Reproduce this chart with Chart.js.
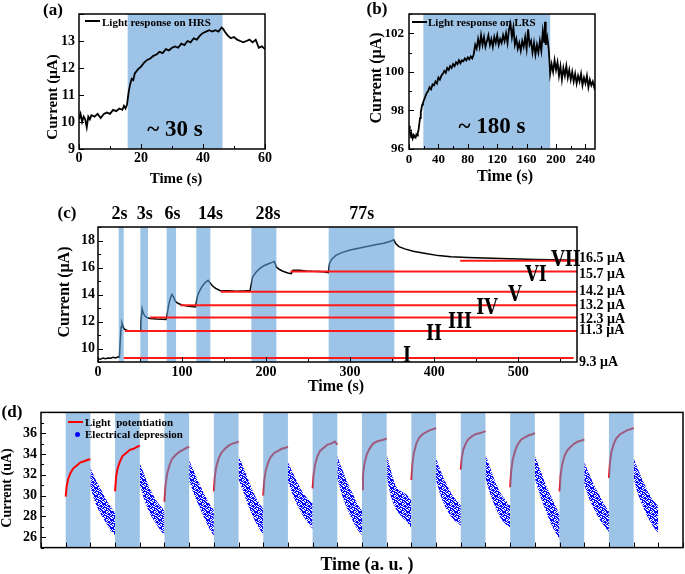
<!DOCTYPE html>
<html>
<head>
<meta charset="utf-8">
<script src="https://cdn.jsdelivr.net/npm/chart.js@4.4.1/dist/chart.umd.min.js"></script>
<style>
    body { margin: 0; width: 685px; height: 574px; position: relative; overflow: hidden; background: #fff;
           font-family: "Liberation Serif", "Times New Roman", serif; font-weight: bold; color: #000; }
    canvas { position: absolute; }
    .t { position: absolute; transform: translate(-50%, -50%); white-space: pre; line-height: 1; }
    .rot { transform: translate(-50%, -50%) rotate(-90deg); }
    .lt { position: absolute; transform: translateY(-50%); white-space: pre; line-height: 1; }
    .rn { font-family: "DejaVu Serif", serif; }
</style>
</head>
<body>
<canvas id="chartA"></canvas>
<canvas id="chartB"></canvas>
<canvas id="chartC"></canvas>
<canvas id="chartD"></canvas>
<script>
// (a) light response on HRS: [time s, current µA]
const hrsTrace = [[0,10.1],[0.5,10.3],[1,10.0],[1.5,10.2],[2,10.1],[2.5,9.8],[3,10.2],[3.5,10.1],[4,10.25],[5,10.2],[6,10.3],[7,10.15],[8,10.3],[9,10.35],[10,10.3],[11,10.45],[12,10.4],[13,10.5],[14,10.45],[14.5,10.6],[15,10.5],[15.5,10.65],[16,11.1],[16.5,11.4],[17,11.6],[17.5,11.55],[18,11.8],[19,11.95],[20,12.05],[21,12.2],[22,12.3],[23,12.35],[24,12.45],[25,12.5],[26,12.6],[27,12.55],[28,12.7],[29,12.65],[30,12.75],[31,12.8],[32,12.75],[33,12.9],[34,12.85],[35,13.0],[36,12.95],[37,13.1],[38,13.05],[39,13.2],[40,13.3],[41,13.35],[42,13.4],[43,13.35],[44,13.4],[45,13.35],[46,13.5],[46.5,13.45],[47,13.35],[48,13.2],[49,13.1],[50,13.15],[51,13.05],[52,13.0],[53,12.95],[54,13.0],[55,13.05],[56,12.95],[57,13.05],[57.5,12.9],[58,12.75],[59,12.8],[60,12.7]];
const hrsLight = [[15.7, 46.3]];
const ticksAX = [0, 20, 40, 60];
const ticksAY = [9, 10, 11, 12, 13];

// (b) light response on LRS
const lrsTrace = [[0,97.2],[1,96.9],[2,96.8],[3,96.6],[4,96.7],[5,96.55],[6,96.7],[7,96.6],[8,96.65],[9,96.6],[10,96.75],[11,96.7],[12,96.85],[13,97.0],[14,97.3],[15,97.6],[16,97.9],[17,98.1],[18,98.3],[19,98.4],[20,98.5],[22,98.7],[24,98.9],[26,99.0],[28,99.2],[30,99.1],[32,99.35],[34,99.3],[36,99.5],[38,99.4],[40,99.7],[42,99.6],[44,99.8],[46,99.9],[48,100.05],[50,99.95],[52,100.2],[54,100.1],[56,100.3],[58,100.2],[60,100.4],[62,100.3],[64,100.5],[66,100.4],[68,100.6],[70,100.45],[72,100.6],[74,100.55],[76,100.7],[78,100.6],[80,100.75],[82,100.65],[84,100.8],[86,100.7],[88,100.9],[90,101.4],[92,101.2],[94,101.7],[96,101.3],[98,101.9],[100,101.4],[102,101.8],[104,101.3],[106,101.6],[108,101.9],[110,101.4],[112,101.7],[114,101.3],[116,101.8],[118,101.5],[120,101.9],[122,101.4],[124,101.7],[126,101.5],[128,101.9],[130,101.6],[132,102.0],[134,101.5],[136,102.2],[138,102.5],[140,101.8],[142,102.3],[144,101.4],[146,101.7],[148,101.2],[150,101.5],[152,101.1],[154,101.6],[156,101.3],[158,101.8],[160,101.2],[162,102.2],[164,101.4],[166,101.6],[168,101.0],[170,101.5],[172,100.9],[174,101.4],[176,101.0],[178,101.6],[180,101.1],[182,102.1],[184,101.5],[185,102.6],[186,101.4],[188,101.8],[190,101.2],[191,100.6],[192,99.9],[194,100.4],[196,100.0],[198,100.6],[200,100.1],[202,100.5],[204,99.8],[206,100.3],[208,99.6],[210,100.2],[212,99.8],[214,100.3],[216,99.7],[218,100.1],[220,99.6],[222,100.0],[224,99.5],[226,99.9],[228,99.4],[230,99.8],[232,99.5],[234,99.9],[236,99.3],[238,99.7],[240,99.4],[242,99.8],[244,99.2],[246,99.6],[248,99.3],[250,99.5],[252,99.2],[253,99.4]];
const lrsLight = [[19.5, 192]];
const ticksBX = [0, 40, 80, 120, 160, 200, 240];
const ticksBY = [96, 98, 100, 102];

// (c) pulses of growing length and the retained levels
const pulseTrace = [[0,9.25],[3,9.2],[6,9.3],[9,9.25],[12,9.3],[15,9.28],[18,9.35],[21,9.3],[24,9.38],[25.5,9.35],[26.5,10.6],[27.5,11.6],[28.5,11.9],[29.5,11.7],[31,11.45],[34,11.35],[38,11.3],[44,11.28],[50,11.3],[51,11.9],[52.5,12.95],[54,12.6],[56,12.4],[58,12.3],[62,12.22],[70,12.18],[81,12.15],[82.5,12.6],[84,13.2],[86,13.7],[88,14.0],[90,13.8],[92,13.5],[95,13.35],[100,13.22],[108,13.12],[116,13.08],[117.5,13.6],[119,14.0],[122,14.4],[125,14.7],[128,14.9],[131,15.05],[133,14.9],[136,14.65],[140,14.45],[145,14.3],[155,14.27],[165,14.25],[175,14.27],[181,14.3],[182.5,14.8],[184,15.3],[188,15.65],[193,15.95],[198,16.15],[203,16.28],[208,16.4],[210,16.45],[212,16.05],[216,15.85],[220,15.72],[226,15.6],[230,15.55],[232,15.8],[240,15.8],[248,15.75],[255,15.72],[262,15.7],[268,15.68],[274,15.62],[275.5,16.3],[278,16.6],[283,16.9],[290,17.1],[300,17.3],[310,17.42],[320,17.55],[330,17.68],[340,17.8],[348,17.95],[352,18.05],[354,17.8],[358,17.55],[365,17.38],[375,17.2],[390,17.03],[405,16.88],[420,16.8],[440,16.74],[460,16.7],[480,16.66],[500,16.63],[520,16.6],[540,16.57],[570,16.53]];
const pulseLight = [[24.6,30.6],[50.4,59.5],[81.7,92.9],[117,133.7],[182.5,212.3],[274.5,352.7]];
const pulseNames = ['2s', '3s', '6s', '14s', '28s', '77s'];
const levels = [9.3, 11.3, 12.3, 13.2, 14.2, 15.7, 16.5];
const levelStart = [30.6, 32, 62, 98, 146, 229, 431];
const levelEnd = [566, 570, 570, 570, 570, 570, 570];
const levelNames = ['I', 'II', 'III', 'IV', 'V', 'VI', 'VII'];
const ticksCX = [0, 100, 200, 300, 400, 500];
const ticksCY = [10, 12, 14, 16, 18];

// (d) 12 cycles: light potentiation then electrical depression
const cycleLight = [[1,2],[3,4],[5,6],[7,8],[9,10],[11,12],[13,14],[15,16],[17,18],[19,20],[21,22],[23,24]];
const riseAt = [0, 0.04, 0.1, 0.2, 0.3, 0.45, 0.6, 0.75, 0.9, 1.0];
const potentiation = [
    [29.9, 30.9, 31.6, 32.2, 32.6, 32.9, 33.2, 33.3, 33.45, 33.5],
    [30.4, 31.8, 32.6, 33.3, 33.8, 34.1, 34.4, 34.5, 34.7, 34.8],
    [29.4, 30.9, 32.0, 32.9, 33.5, 33.9, 34.2, 34.4, 34.6, 34.7],
    [30.4, 31.8, 32.8, 33.6, 34.1, 34.5, 34.8, 35.0, 35.1, 35.2],
    [30.0, 31.4, 32.4, 33.2, 33.7, 34.1, 34.3, 34.5, 34.6, 34.7],
    [30.7, 32.0, 33.0, 33.8, 34.3, 34.6, 34.9, 35.0, 35.2, 34.9],
    [30.6, 32.0, 33.1, 34.0, 34.5, 35.0, 35.2, 35.3, 35.4, 35.5],
    [31.5, 33.0, 34.1, 35.0, 35.5, 35.9, 36.1, 36.3, 36.4, 36.5],
    [32.5, 33.6, 34.4, 35.0, 35.4, 35.7, 35.9, 36.0, 36.1, 36.2],
    [30.8, 32.3, 33.4, 34.3, 34.9, 35.4, 35.6, 35.8, 35.9, 36.0],
    [30.4, 31.9, 32.9, 33.8, 34.3, 34.7, 35.0, 35.2, 35.3, 35.4],
    [31.7, 33.1, 34.2, 35.0, 35.5, 35.9, 36.1, 36.3, 36.4, 36.5]
];
const fallAt = [0, 0.2, 0.4, 0.6, 0.8, 1.0];
const depressionHigh = [
    [32.7, 31.6, 30.7, 29.8, 29.0, 28.3],
    [33.1, 31.9, 30.7, 29.8, 29.1, 28.6],
    [33.4, 32.3, 31.2, 30.2, 29.3, 28.6],
    [33.8, 32.7, 31.5, 30.3, 29.4, 28.7],
    [33.2, 32.2, 31.2, 30.3, 29.7, 29.3],
    [33.8, 32.5, 31.3, 30.3, 29.3, 28.5],
    [34.0, 32.1, 30.8, 30.4, 30.1, 29.5],
    [33.6, 32.3, 31.2, 30.3, 29.6, 29.1],
    [34.0, 32.6, 31.3, 30.3, 29.6, 29.0],
    [33.8, 32.6, 31.3, 30.2, 29.2, 28.2],
    [33.2, 32.1, 31.0, 30.1, 29.2, 28.5],
    [33.6, 32.4, 31.3, 30.3, 29.5, 29.0]
];
const depressionLow = [
    [30.8, 29.3, 28.3, 27.5, 26.7, 26.2],
    [31.1, 29.5, 28.3, 27.5, 26.8, 26.2],
    [31.4, 30.1, 29.0, 27.9, 26.9, 26.1],
    [31.6, 30.3, 29.0, 27.9, 27.0, 26.2],
    [31.4, 30.0, 29.0, 28.1, 27.4, 26.8],
    [31.6, 30.0, 28.7, 27.7, 26.8, 26.2],
    [31.8, 29.7, 28.6, 28.0, 27.5, 26.9],
    [31.5, 29.9, 28.8, 28.0, 27.5, 27.1],
    [31.7, 30.1, 28.9, 27.9, 27.3, 26.9],
    [31.7, 30.1, 28.8, 27.6, 26.6, 25.8],
    [31.1, 29.7, 28.7, 27.8, 27.1, 26.5],
    [31.6, 30.0, 28.8, 27.8, 27.0, 26.4]
];
const ticksDY = [26, 28, 30, 32, 34, 36];

Chart.defaults.font.family = '"Liberation Serif", "Times New Roman", serif';
Chart.defaults.font.weight = 'bold';
Chart.defaults.color = '#000';

// light-on windows, painted either under every line or right after one dataset
function paintShade(chart, o) {
    const { ctx, chartArea: a, scales: { x } } = chart;
    ctx.save();
    ctx.fillStyle = o.color;
    o.spans.forEach(([s, e]) => {
        const l = x.getPixelForValue(s), r = x.getPixelForValue(e);
        ctx.fillRect(l, a.top, r - l, a.bottom - a.top);
    });
    ctx.restore();
}
const shadePlugin = {
    id: 'shade',
    beforeDatasetsDraw(chart, args, o) { if (o.after === -1) paintShade(chart, o); },
    afterDatasetDraw(chart, args, o) { if (args.index === o.after) paintShade(chart, o); }
};

function tickMarks(scale, minor, major) {
    const out = [];
    const n0 = Math.ceil(scale.min / minor - 1e-6), n1 = Math.floor(scale.max / minor + 1e-6);
    for (let i = n0; i <= n1; i++) {
        const v = i * minor, r = v / major;
        out.push([v, Math.abs(r - Math.round(r)) < 1e-6]);
    }
    return out;
}
// closed box with inward ticks on bottom and left
const framePlugin = {
    id: 'frame',
    afterDraw(chart, args, o) {
        const { ctx, chartArea: a, scales: { x, y } } = chart;
        ctx.save();
        ctx.strokeStyle = '#000';
        ctx.lineWidth = 1.5;
        ctx.strokeRect(a.left, a.top, a.right - a.left, a.bottom - a.top);
        ctx.lineWidth = 1;
        ctx.beginPath();
        tickMarks(x, o.xMinor, o.xMajor).forEach(([v, big]) => {
            const p = Math.round(x.getPixelForValue(v)) + 0.5;
            ctx.moveTo(p, a.bottom); ctx.lineTo(p, a.bottom - (big ? 5 : 3));
        });
        tickMarks(y, o.yMinor, o.yMajor).forEach(([v, big]) => {
            const p = Math.round(y.getPixelForValue(v)) + 0.5;
            ctx.moveTo(a.left, p); ctx.lineTo(a.left + (big ? 5 : 3), p);
        });
        ctx.stroke();
        ctx.restore();
    }
};

function build(id, box, area, c) {
    const cv = document.getElementById(id);
    cv.width = box.w; cv.height = box.h;
    cv.style.left = box.x + 'px'; cv.style.top = box.y + 'px';
    const yW = area.l - box.x, xH = box.y + box.h - area.b;
    return new Chart(cv, {
        type: 'line',
        data: { datasets: c.datasets },
        options: {
            responsive: false,
            animation: false,
            events: [],
            layout: { padding: { top: area.t - box.y, right: box.x + box.w - area.r, left: 0, bottom: 0 } },
            plugins: { legend: { display: false }, tooltip: { enabled: false }, shade: c.shade, frame: c.frame },
            scales: {
                x: {
                    type: 'linear', min: c.xMin, max: c.xMax,
                    grid: { display: false, drawTicks: false }, border: { display: false },
                    ticks: { display: c.xTicks.length > 0, padding: c.xPad, font: { size: c.font }, maxRotation: 0, autoSkip: false },
                    afterBuildTicks: s => { s.ticks = c.xTicks.map(v => ({ value: v })); },
                    afterFit: s => { s.height = xH; }
                },
                y: {
                    type: 'linear', min: c.yMin, max: c.yMax,
                    grid: { display: false, drawTicks: false }, border: { display: false },
                    ticks: { padding: c.yPad, font: { size: c.font }, autoSkip: false },
                    afterBuildTicks: s => { s.ticks = c.yTicks.map(v => ({ value: v })); },
                    afterFit: s => { s.width = yW; }
                }
            }
        },
        plugins: [shadePlugin, framePlugin]
    });
}

const pts = arr => arr.map(([x, y]) => ({ x, y }));
const line = (data, color, width, order) => ({
    data, borderColor: color, borderWidth: width, pointRadius: 0, tension: 0, fill: false, order: order || 0
});

function text(str, x, y, size, cls) {
    const d = document.createElement('div');
    d.className = cls || 't';
    d.textContent = str;
    d.style.left = x + 'px'; d.style.top = y + 'px'; d.style.fontSize = size + 'px';
    document.body.appendChild(d);
    return d;
}
function swatch(x, y, w, h, color, round) {
    const d = document.createElement('div');
    d.style.cssText = `position:absolute;left:${x}px;top:${y}px;width:${w}px;height:${h}px;background:${color};` +
        (round ? 'border-radius:50%;' : '');
    document.body.appendChild(d);
}

// (a)
const shadeSolid = '#9dc3e6';
build('chartA', { x: 0, y: 0, w: 280, h: 170 }, { l: 79, t: 14, r: 265, b: 149 }, {
    datasets: [line(pts(hrsTrace), '#000', 1.8)],
    xMin: 0, xMax: 60, yMin: 9, yMax: 14, xTicks: ticksAX, yTicks: ticksAY, font: 14, xPad: 1, yPad: 4,
    shade: { spans: hrsLight, color: shadeSolid, after: -1 },
    frame: { xMinor: 10, xMajor: 20, yMinor: 1, yMajor: 1 }
});
text('(a)', 53, 9, 17);
text('Current (μA)', 52, 97, 15, 't rot');
text('Time (s)', 176, 178, 15);
text('~ 30 s', 175, 128, 23);
swatch(85, 20, 15, 2, '#000');
text('Light response on HRS', 102, 21.5, 11, 'lt');

// (b)
build('chartB', { x: 340, y: 0, w: 270, h: 170 }, { l: 409, t: 14, r: 595, b: 149 }, {
    datasets: [line(pts(lrsTrace), '#000', 1.8)],
    xMin: 0, xMax: 253, yMin: 96, yMax: 103, xTicks: ticksBX, yTicks: ticksBY, font: 13, xPad: 3, yPad: 5,
    shade: { spans: lrsLight, color: shadeSolid, after: -1 },
    frame: { xMinor: 20, xMajor: 40, yMinor: 1, yMajor: 2 }
});
text('(b)', 377, 8, 17);
text('Current (μA)', 376, 78, 16, 't rot');
text('Time (s)', 505, 176, 16);
text('~ 180 s', 492, 125, 23);
swatch(412, 21, 15, 2, '#000');
text('Light response on LRS', 428, 22, 11, 'lt');

// (c) black trace under the light windows, red retained levels on top
const levelSets = levels.map((v, i) => line([{ x: levelStart[i], y: v }, { x: levelEnd[i], y: v }], '#ff1a1a', 2, 1));
const chartC = build('chartC', { x: 0, y: 200, w: 590, h: 185 }, { l: 98, t: 227, r: 577, b: 362 }, {
    datasets: [...levelSets, line(pts(pulseTrace), '#000', 1.5, 2)],
    xMin: 0, xMax: 570, yMin: 9, yMax: 19, xTicks: ticksCX, yTicks: ticksCY, font: 14, xPad: 2, yPad: 3,
    shade: { spans: pulseLight, color: 'rgba(91,155,213,0.6)', after: levels.length },
    frame: { xMinor: 50, xMajor: 100, yMinor: 1, yMajor: 2 }
});
text('(c)', 67, 212, 17);
text('Current (μA)', 64, 292, 16, 't rot');
text('Time (s)', 336, 386, 16);
const pulseLabelX = [119.5, 144.7, 172.5, 210.5, 268, 361.7];
pulseNames.forEach((s, i) => text(s, pulseLabelX[i], 213, 18));
const levelLabelNudge = [4, -1, 2, 0, -0.5, 2, -2.5];
levels.forEach((v, i) => {
    const yPx = 200 + chartC.scales.y.getPixelForValue(v) + levelLabelNudge[i];
    text(v.toFixed(1) + ' μA', 579, yPx, 14, 'lt');
});
const romanPos = [[407, 354], [434, 332], [460, 320], [487, 306], [515, 293], [536, 273], [566, 258]];
levelNames.forEach((s, i) => {
    const d = text(s, romanPos[i][0], romanPos[i][1], 22, 't rn');
    d.style.transform = 'translate(-50%,-50%) scaleX(0.78)';
});

// (d) depression clouds: speckled fill between the upper and lower edge of each cloud
const tile = document.createElement('canvas');
tile.width = 8; tile.height = 8;
const tctx = tile.getContext('2d');
tctx.fillStyle = '#0000ff';
['11010011', '01101101', '10011110', '11100101', '00111011', '10101100', '01110110', '11001011']
    .forEach((row, py) => [...row].forEach((c, px) => { if (c === '1') tctx.fillRect(px, py, 1, 1); }));
const speckle = tctx.createPattern(tile, 'repeat');

const brightRed = [], dimRed = [];
potentiation.forEach((row, k) => {
    const target = k < 2 ? brightRed : dimRed;
    const x0 = cycleLight[k][0];
    row.forEach((v, j) => target.push({ x: x0 + riseAt[j], y: v }));
    target.push({ x: x0 + 1.01, y: null });
});
const bandSets = [];
depressionHigh.forEach((row, k) => {
    const x0 = cycleLight[k][1];
    bandSets.push({
        data: row.map((v, j) => ({ x: x0 + fallAt[j], y: v })),
        borderWidth: 0, pointRadius: 0, tension: 0.3, fill: '+1', backgroundColor: speckle, order: 1
    });
    bandSets.push({
        data: depressionLow[k].map((v, j) => ({ x: x0 + fallAt[j], y: v })),
        borderWidth: 0, pointRadius: 0, tension: 0.3, fill: false, order: 1
    });
});
const dSets = [line(brightRed, '#ff0000', 2, 0), ...bandSets, line(dimRed, '#ff0000', 2, 5)];
dSets.forEach(d => { d.spanGaps = false; });
build('chartD', { x: 0, y: 400, w: 685, h: 160 }, { l: 41, t: 412, r: 683, b: 548 }, {
    datasets: dSets,
    xMin: 0, xMax: 26, yMin: 25, yMax: 38, xTicks: [], yTicks: ticksDY, font: 14, xPad: 2, yPad: 4,
    shade: { spans: cycleLight, color: 'rgba(91,155,213,0.6)', after: dSets.length - 1 },
    frame: { xMinor: 1, xMajor: 1, yMinor: 1, yMajor: 2 }
});
text('(d)', 12, 411, 17);
text('Current (uA)', 7, 488, 14, 't rot');
text('Time (a. u. )', 367, 564, 18);
swatch(68, 421, 15, 2, '#ff0000');
text('Light  potentiation', 85, 422, 11, 'lt');
swatch(74.5, 431.5, 5, 5, '#0000ff', true);
text('Electrical depression', 85, 434, 11, 'lt');
</script>
</body>
</html>
